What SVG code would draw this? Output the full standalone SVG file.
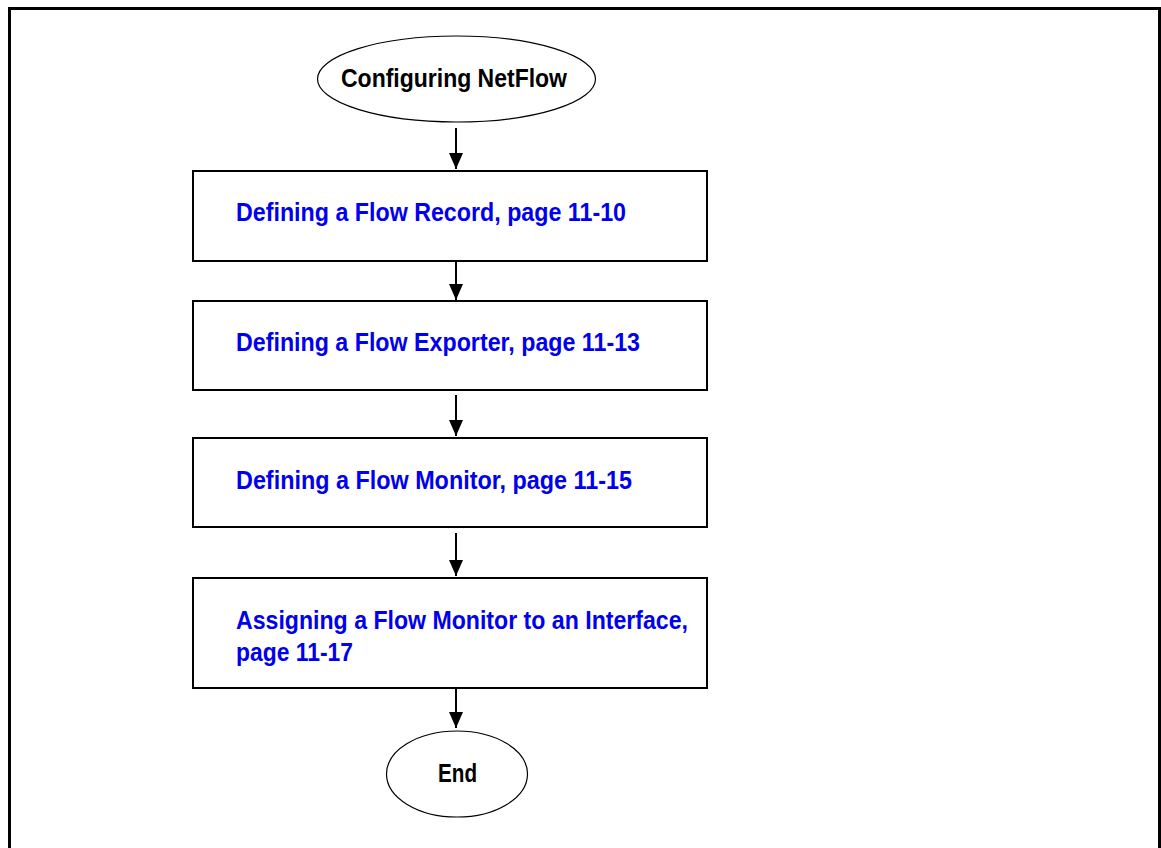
<svg xmlns="http://www.w3.org/2000/svg" width="1161" height="848" viewBox="0 0 1161 848">
<style>
.frame{fill:none;stroke:#000;stroke-width:3}
.box{fill:#fff;stroke:#000;stroke-width:2}
.ell{fill:#fff;stroke:#000;stroke-width:1.2}
.conn{stroke:#000;stroke-width:2;fill:none}
.t{font-family:"Liberation Sans Narrow","Liberation Sans",Arial,sans-serif;font-weight:bold;font-size:25px}
.link{fill:#0000ee}
.black{fill:#000}
</style>
<defs>
<marker id="arr" markerWidth="16" markerHeight="14" refX="16" refY="7" orient="auto" markerUnits="userSpaceOnUse">
<path d="M0,0 L16,7 L0,14 Z" fill="#000"/>
</marker>
</defs>
<rect class="frame" x="9.5" y="8.5" width="1150" height="850"/>
<g id="connectors">
<line class="conn" x1="456" y1="128" x2="456" y2="169" marker-end="url(#arr)"/>
<line class="conn" x1="456" y1="262" x2="456" y2="300" marker-end="url(#arr)"/>
<line class="conn" x1="456" y1="395" x2="456" y2="436" marker-end="url(#arr)"/>
<line class="conn" x1="456" y1="533" x2="456" y2="576" marker-end="url(#arr)"/>
<line class="conn" x1="456" y1="689" x2="456" y2="728" marker-end="url(#arr)"/>
</g>
<g id="start">
<ellipse class="ell" cx="456.5" cy="79" rx="139" ry="43"/>
<text class="t black" x="341" y="87" textLength="226" lengthAdjust="spacingAndGlyphs">Configuring NetFlow</text>
</g>
<g id="record">
<rect class="box" x="193" y="171" width="514" height="90"/>
<text class="t link" x="236" y="221" textLength="390" lengthAdjust="spacingAndGlyphs">Defining a Flow Record, page 11-10</text>
</g>
<g id="exporter">
<rect class="box" x="193" y="301" width="514" height="89"/>
<text class="t link" x="236" y="351" textLength="404" lengthAdjust="spacingAndGlyphs">Defining a Flow Exporter, page 11-13</text>
</g>
<g id="monitor">
<rect class="box" x="193" y="438" width="514" height="89"/>
<text class="t link" x="236" y="489" textLength="396" lengthAdjust="spacingAndGlyphs">Defining a Flow Monitor, page 11-15</text>
</g>
<g id="assign">
<rect class="box" x="193" y="578" width="514" height="110"/>
<text class="t link" x="236" y="629" textLength="452" lengthAdjust="spacingAndGlyphs">Assigning a Flow Monitor to an Interface,</text>
<text class="t link" x="236" y="661" textLength="117" lengthAdjust="spacingAndGlyphs">page 11-17</text>
</g>
<g id="end">
<ellipse class="ell" cx="457" cy="774" rx="70.5" ry="43"/>
<text class="t black" x="438" y="782" textLength="39" lengthAdjust="spacingAndGlyphs">End</text>
</g>
</svg>
